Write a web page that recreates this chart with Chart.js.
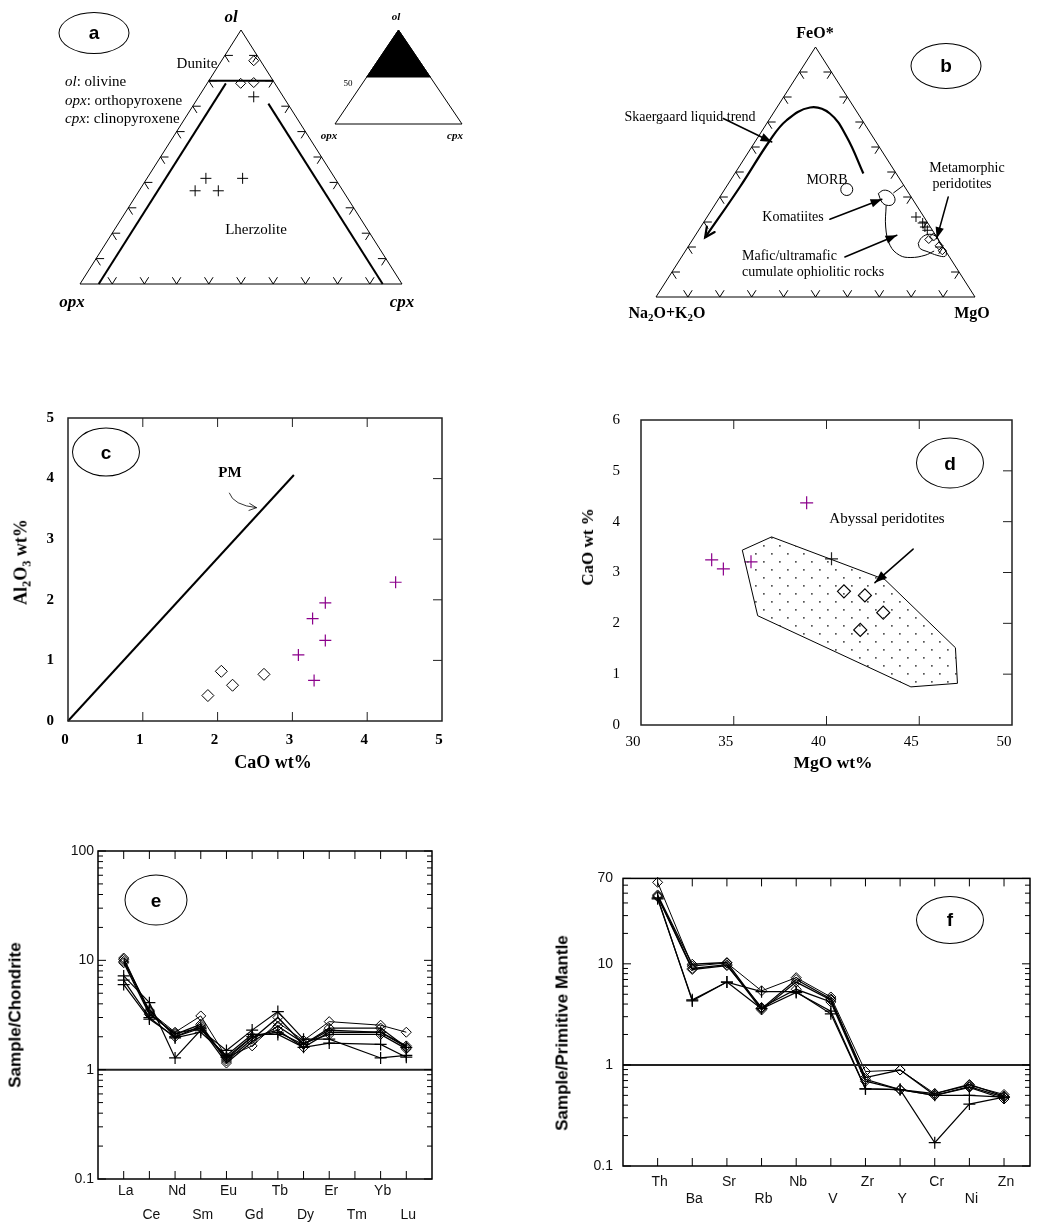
<!DOCTYPE html>
<html>
<head>
<meta charset="utf-8">
<script src="https://cdn.jsdelivr.net/npm/chart.js@4.4.0/dist/chart.umd.min.js"></script>
<style>
  body { margin: 0; width: 1040px; height: 1223px; position: relative; overflow: hidden; background: #fff; color: #000;
         font-family: "Liberation Serif", "Times New Roman", serif; }
  canvas { position: absolute; }
  .t { position: absolute; white-space: nowrap; line-height: 1; transform: translate(-50%, -50%); }
  .l { position: absolute; white-space: nowrap; line-height: 1; transform: translateY(-50%); }
  .r { transform: translate(-50%, -50%) rotate(-90deg); }
  .bub { position: absolute; border: 1.6px solid #000; border-radius: 50%; box-sizing: border-box;
         display: flex; align-items: center; justify-content: center; transform: translate(-50%, -50%);
         font: bold 19px "Liberation Sans", Arial, sans-serif; }
  .sans { font-family: "Liberation Sans", Arial, sans-serif; }
  sub { font-size: 0.68em; vertical-align: -0.3em; line-height: 0; }
</style>
</head>
<body>

<canvas id="ca" width="362" height="294" style="left:60px;top:10px"></canvas>
<canvas id="cai" width="147" height="114" style="left:325px;top:20px"></canvas>
<canvas id="cb" width="359" height="290" style="left:636px;top:27px"></canvas>
<canvas id="cc" width="460" height="365" style="left:0px;top:395px"></canvas>
<canvas id="cd" width="470" height="380" style="left:560px;top:390px"></canvas>
<canvas id="ce" width="450" height="388" style="left:0px;top:835px"></canvas>
<canvas id="cf" width="500" height="363" style="left:540px;top:860px"></canvas>

<!-- a -->
<div class="bub" style="left:94px;top:33px;width:71px;height:42px">a</div>
<div class="t" style="left:231px;top:17px;font:italic bold 17px 'Liberation Serif'">ol</div>
<div class="t" style="left:72px;top:302px;font:italic bold 17px 'Liberation Serif'">opx</div>
<div class="t" style="left:402px;top:302px;font:italic bold 17px 'Liberation Serif'">cpx</div>
<div class="t" style="left:197px;top:63px;font-size:15px">Dunite</div>
<div class="l" style="left:65px;top:81px;font-size:15px"><i>ol</i>: olivine</div>
<div class="l" style="left:65px;top:100px;font-size:15px"><i>opx</i>: orthopyroxene</div>
<div class="l" style="left:65px;top:118px;font-size:15px"><i>cpx</i>: clinopyroxene</div>
<div class="t" style="left:256px;top:229px;font-size:15px">Lherzolite</div>
<div class="t" style="left:396px;top:16px;font:italic bold 11px 'Liberation Serif'">ol</div>
<div class="t" style="left:329px;top:135px;font:italic bold 11px 'Liberation Serif'">opx</div>
<div class="t" style="left:455px;top:135px;font:italic bold 11px 'Liberation Serif'">cpx</div>
<div class="t" style="left:348px;top:83px;font-size:9px">50</div>

<!-- b -->
<div class="bub" style="left:946px;top:66px;width:71px;height:46px">b</div>
<div class="t" style="left:815px;top:33px;font:bold 16px 'Liberation Serif'">FeO*</div>
<div class="t" style="left:667px;top:313px;font:bold 16px 'Liberation Serif'">Na<sub>2</sub>O+K<sub>2</sub>O</div>
<div class="t" style="left:972px;top:313px;font:bold 16px 'Liberation Serif'">MgO</div>
<div class="t" style="left:690px;top:117px;font-size:14px">Skaergaard liquid trend</div>
<div class="t" style="left:827px;top:180px;font-size:14px">MORB</div>
<div class="t" style="left:793px;top:217px;font-size:14px">Komatiites</div>
<div class="l" style="left:742px;top:256px;font-size:14px">Mafic/ultramafic</div>
<div class="l" style="left:742px;top:272px;font-size:14px">cumulate ophiolitic rocks</div>
<div class="t" style="left:967px;top:168px;font-size:14px">Metamorphic</div>
<div class="t" style="left:962px;top:184px;font-size:14px">peridotites</div>

<!-- c -->
<div class="bub" style="left:106px;top:452px;width:68px;height:49px">c</div>
<div class="t" style="left:230px;top:472px;font:bold 15px 'Liberation Serif'">PM</div>
<div class="t" style="left:273px;top:762px;font:bold 18px 'Liberation Serif'">CaO wt%</div>
<div class="t r" style="left:21px;top:562px;font:bold 18px 'Liberation Serif'">Al<sub>2</sub>O<sub>3</sub> wt%</div>

<!-- d -->
<div class="bub" style="left:950px;top:463px;width:68px;height:51px">d</div>
<div class="t" style="left:887px;top:518px;font-size:15px">Abyssal peridotites</div>
<div class="t" style="left:833px;top:762px;font:bold 17.5px 'Liberation Serif'">MgO wt%</div>
<div class="t r" style="left:588px;top:547px;font:bold 17px 'Liberation Serif'">CaO wt %</div>

<!-- e -->
<div class="bub" style="left:156px;top:900px;width:63px;height:51px">e</div>
<div class="t r sans" style="left:15px;top:1015px;font-weight:bold;font-size:17px">Sample/Chondrite</div>

<!-- f -->
<div class="bub" style="left:950px;top:920px;width:68px;height:48px">f</div>
<div class="t r sans" style="left:562px;top:1033px;font-weight:bold;font-size:17px">Sample/Primitive Mantle</div>

<script>
// ---------- data ----------
const tickFracs = [0.1, 0.2, 0.3, 0.4, 0.5, 0.6, 0.7, 0.8, 0.9];

// a: modal ol / opx / cpx (field ol > 50 rescaled)
const aDiamondOl  = [0.879, 0.79, 0.793];
const aDiamondOpx = [0.021, 0.106, 0.064];
const aDiamondCpx = [0.10, 0.104, 0.143];
const aCrossOl  = [0.737, 0.416, 0.367, 0.367, 0.416];
const aCrossOpx = [0.092, 0.401, 0.459, 0.387, 0.287];
const aCrossCpx = [0.171, 0.183, 0.174, 0.246, 0.297];
const aDuniteOl = 0.8;
const aOpxSideCpx = 0.058, aOpxSideTopOl = 0.79;
const aCpxSideOpx = 0.06, aCpxSideTopOl = 0.71;
const insetSplitOl = 0.5;

// b: AFM (F = FeO*, A = Na2O+K2O, M = MgO)
const bCrossF = [0.32, 0.296, 0.28, 0.267];
const bCrossM = [0.655, 0.688, 0.703, 0.717];
const bDiamondF = [0.23, 0.24, 0.205, 0.185];
const bDiamondM = [0.74, 0.75, 0.785, 0.805];
const skaerF = [0.494, 0.64, 0.734, 0.758, 0.707, 0.627, 0.44, 0.238];
const skaerM = [0.403, 0.278, 0.178, 0.104, 0.056, 0.044, 0.043, 0.035];
const morbF = [0.43], morbM = [0.383];
const komF = [0.414, 0.427, 0.42, 0.394, 0.371, 0.367, 0.38, 0.414];
const komM = [0.49, 0.50, 0.524, 0.552, 0.557, 0.54, 0.518, 0.49];
const komTieF = [0.416, 0.447], komTieM = [0.536, 0.553];
const maficF = [0.367, 0.28, 0.207, 0.167, 0.158, 0.167, 0.184];
const maficM = [0.538, 0.58, 0.63, 0.68, 0.72, 0.76, 0.78];
const metaF = [0.214, 0.238, 0.251, 0.24, 0.214, 0.184, 0.163, 0.167, 0.18, 0.194, 0.214];
const metaM = [0.715, 0.714, 0.731, 0.76, 0.783, 0.817, 0.825, 0.797, 0.764, 0.731, 0.715];

// c: CaO vs Al2O3
const cCaODiamond = [1.87, 2.05, 2.2, 2.62];
const cAlDiamond  = [0.42, 0.82, 0.59, 0.77];
const cCaOCross = [3.08, 3.27, 3.44, 3.44, 3.29, 4.38];
const cAlCross  = [1.09, 1.69, 1.95, 1.33, 0.67, 2.29];
const pmCaO = [0, 3.02], pmAl = [0, 4.06];

// d: MgO vs CaO
const dMgODiamond = [40.94, 42.07, 43.06, 41.82];
const dCaODiamond = [2.63, 2.55, 2.21, 1.87];
const dMgOCross = [33.81, 34.44, 35.93, 38.93];
const dCaOCross = [3.25, 3.07, 3.21, 4.37];
const dMgOCrossDark = [40.27], dCaOCrossDark = [3.27];
const abyssalMgO = [35.46, 37.04, 43.15, 46.95, 47.06, 44.55, 36.29, 35.46];
const abyssalCaO = [3.44, 3.70, 2.86, 1.52, 0.82, 0.75, 2.15, 3.44];

// e: chondrite-normalised REE
const ree = ['La', 'Ce', 'Nd', 'Sm', 'Eu', 'Gd', 'Tb', 'Dy', 'Er', 'Tm', 'Yb', 'Lu'];
const eDiamond = [
  [10.5, 3.4, 2.2, 3.1, 1.3, 1.65, 2.7, 1.85, 2.75, null, 2.55, 2.2],
  [10.2, 3.3, 2.1, 2.6, 1.2, 1.9, 3.0, 1.7, 2.4, null, 2.4, 1.6],
  [9.8, 3.5, 2.0, 2.5, 1.25, 2.0, 2.3, 1.6, 2.2, null, 2.2, 1.65],
  [9.5, 3.2, 2.15, 2.4, 1.15, 1.8, 2.5, 1.75, 2.1, null, 2.1, 1.55]
];
const eCross = [
  [7.2, 4.1, 1.28, 2.3, 1.5, 2.3, 3.4, 1.9, 1.9, null, 1.28, 1.35],
  [6.6, 3.0, 1.95, 2.2, 1.35, 2.1, 2.1, 1.6, 1.75, null, 1.7, 1.3],
  [6.0, 2.9, 2.0, 2.4, 1.3, 2.0, 2.2, 1.7, 2.3, null, 2.2, 1.6]
];
const eYTicks = [0.1, 1, 10, 100];

// f: primitive-mantle-normalised trace elements
const trace = ['Th', 'Ba', 'Sr', 'Rb', 'Nb', 'V', 'Zr', 'Y', 'Cr', 'Ni', 'Zn'];
const fDiamond = [
  [64, 9.5, 10.2, 5.4, 7.3, 4.7, 0.86, 0.89, 0.52, 0.63, 0.51],
  [48, 9.9, 10.3, 3.6, 7.0, 4.5, 0.75, 0.89, 0.50, 0.61, 0.48],
  [47, 9.0, 9.8, 3.5, 6.6, 4.4, 0.72, 0.57, 0.50, 0.60, 0.46],
  [46, 8.8, 9.6, 3.7, 5.6, 4.2, 0.69, 0.57, 0.52, 0.64, 0.49]
];
const fCross = [
  [45, 4.3, 6.6, 3.6, 5.2, 3.4, 0.58, 0.57, 0.17, 0.41, 0.48],
  [44, 4.4, 6.6, 5.3, 5.3, 3.2, 0.58, 0.57, 0.50, 0.50, 0.48]
];
const fYTicks = [0.1, 1, 10, 70];

// ---------- helpers ----------
// ternary -> plot frame: left corner (0,0), right corner (1,0), top corner (0.5,1)
function tern(top, left, right) {
  const s = top + left + right;
  return { x: (right + top / 2) / s, y: top / s };
}
const afm = (F, M) => tern(F, 1 - F - M, M);
const pts = (xs, ys) => xs.map((v, i) => ({ x: v, y: ys[i] }));
const series = vals => vals.map((v, i) => ({ x: i, y: v }));
const minorLog = (lo, hi) => {
  const out = [];
  for (let d = lo; d < hi; d *= 10) for (let k = 2; k <= 9; k++) if (k * d < hi) out.push(k * d);
  return out;
};

function head(ctx, from, to, size, filled) {
  const ang = Math.atan2(to[1] - from[1], to[0] - from[0]);
  const spread = filled ? 0.36 : 0.45;
  ctx.beginPath();
  ctx.moveTo(to[0] - size * Math.cos(ang - spread), to[1] - size * Math.sin(ang - spread));
  ctx.lineTo(to[0], to[1]);
  ctx.lineTo(to[0] - size * Math.cos(ang + spread), to[1] - size * Math.sin(ang + spread));
  if (filled) { ctx.closePath(); ctx.fill(); } else ctx.stroke();
}

const ternaryTicks = {
  id: 'ternaryTicks',
  afterDatasetsDraw(chart, args, o) {
    if (!o.fracs) return;
    const { ctx, scales: { x, y } } = chart;
    const P = (px, py) => [x.getPixelForValue(px), y.getPixelForValue(py)];
    const dir = (dx, dy) => {
      const a = P(0, 0), b = P(dx, dy);
      const l = Math.hypot(b[0] - a[0], b[1] - a[1]);
      return [(b[0] - a[0]) / l * o.len, (b[1] - a[1]) / l * o.len];
    };
    const upL = dir(-0.5, 1), upR = dir(0.5, 1), right = dir(1, 0), downR = dir(0.5, -1), left = dir(-1, 0), downL = dir(-0.5, -1);
    const mark = (p, d1, d2) => {
      ctx.moveTo(p[0] + d1[0], p[1] + d1[1]);
      ctx.lineTo(p[0], p[1]);
      ctx.lineTo(p[0] + d2[0], p[1] + d2[1]);
    };
    ctx.save();
    ctx.strokeStyle = '#000';
    ctx.lineWidth = 1;
    ctx.beginPath();
    o.fracs.forEach(t => {
      mark(P(t, 0), upL, upR);
      mark(P(t / 2, t), right, downR);
      mark(P(1 - t / 2, t), left, downL);
    });
    ctx.stroke();
    ctx.restore();
  }
};

const annot = {
  id: 'annot',
  afterDatasetsDraw(chart, args, o) {
    const { ctx, scales: { x, y } } = chart;
    const P = p => [x.getPixelForValue(p[0]), y.getPixelForValue(p[1])];
    ctx.save();
    ctx.strokeStyle = '#000';
    ctx.fillStyle = '#000';
    ctx.lineCap = 'round';
    (o.arrows || []).forEach(a => {
      const f = P(a.from), t = P(a.to);
      let base = f;
      ctx.lineWidth = a.width;
      ctx.beginPath();
      ctx.moveTo(f[0], f[1]);
      if (a.via) {
        const v = P(a.via);
        ctx.quadraticCurveTo(v[0], v[1], t[0], t[1]);
        base = v;
      } else {
        ctx.lineTo(t[0], t[1]);
      }
      ctx.stroke();
      head(ctx, base, t, a.size, a.filled);
    });
    (o.endHeads || []).forEach(h => {
      const el = chart.getDatasetMeta(h.dataset).data;
      const a = el[el.length - 2], b = el[el.length - 1];
      ctx.lineWidth = h.width;
      head(ctx, [a.x, a.y], [b.x, b.y], h.size, false);
    });
    ctx.restore();
  }
};

const frame = {
  id: 'frame',
  afterDatasetsDraw(chart, args, o) {
    const { ctx, chartArea: a, scales: { x, y } } = chart;
    ctx.save();
    ctx.strokeStyle = o.color;
    ctx.lineWidth = 1;
    ctx.beginPath();
    (o.xTicks || []).forEach(v => {
      const px = x.getPixelForValue(v);
      ctx.moveTo(px, a.top); ctx.lineTo(px, a.top + o.len);
      ctx.moveTo(px, a.bottom); ctx.lineTo(px, a.bottom - o.len);
    });
    (o.yTicks || []).forEach(v => {
      const py = y.getPixelForValue(v);
      if (o.leftTicks) { ctx.moveTo(a.left, py); ctx.lineTo(a.left + o.len, py); }
      ctx.moveTo(a.right, py); ctx.lineTo(a.right - o.len, py);
    });
    (o.yMinor || []).forEach(v => {
      const py = y.getPixelForValue(v);
      ctx.moveTo(a.left, py); ctx.lineTo(a.left + o.minorLen, py);
      ctx.moveTo(a.right, py); ctx.lineTo(a.right - o.minorLen, py);
    });
    ctx.stroke();
    ctx.lineWidth = o.width;
    ctx.strokeRect(a.left, a.top, a.right - a.left, a.bottom - a.top);
    ctx.restore();
  }
};

const base = {
  responsive: false,
  animation: false,
  events: [],
  plugins: { legend: { display: false }, tooltip: { enabled: false } }
};

function ternaryChart(id, pad, datasets, extra) {
  return new Chart(document.getElementById(id), {
    type: 'scatter',
    data: { datasets },
    options: Object.assign({}, base, {
      layout: { padding: pad },
      scales: {
        x: { type: 'linear', min: 0, max: 1, display: false },
        y: { type: 'linear', min: 0, max: 1, display: false }
      },
      plugins: Object.assign({}, base.plugins, extra)
    }),
    plugins: [ternaryTicks, annot]
  });
}

const lineSet = (data, width, more) => Object.assign({
  data, showLine: true, borderColor: '#000', borderWidth: width, pointRadius: 0, clip: false, fill: false
}, more || {});
const markerSet = (data, style, radius, color, more) => Object.assign({
  data, showLine: false, pointStyle: style, pointRadius: radius, pointBorderColor: color,
  pointBackgroundColor: 'rgba(0,0,0,0)', pointBorderWidth: 1, clip: false
}, more || {});

const outline = [tern(0, 1, 0), tern(0, 0, 1), tern(1, 0, 0), tern(0, 1, 0)];

// ---------- a ----------
ternaryChart('ca', 20, [
  lineSet(outline, 1),
  lineSet([tern(aDuniteOl, 1 - aDuniteOl, 0), tern(aDuniteOl, 0, 1 - aDuniteOl)], 2),
  lineSet([tern(0, 1 - aOpxSideCpx, aOpxSideCpx), tern(aOpxSideTopOl, 1 - aOpxSideTopOl - aOpxSideCpx, aOpxSideCpx)], 2),
  lineSet([tern(0, aCpxSideOpx, 1 - aCpxSideOpx), tern(aCpxSideTopOl, aCpxSideOpx, 1 - aCpxSideTopOl - aCpxSideOpx)], 2),
  markerSet(aDiamondOl.map((v, i) => tern(v, aDiamondOpx[i], aDiamondCpx[i])), 'rectRot', 5, '#000'),
  markerSet(aCrossOl.map((v, i) => tern(v, aCrossOpx[i], aCrossCpx[i])), 'cross', 5.5, '#000')
], { ternaryTicks: { fracs: tickFracs, len: 8 }, annot: {} });

// inset key: black = ol > 50
ternaryChart('cai', 10, [
  lineSet([tern(insetSplitOl, 1 - insetSplitOl, 0), tern(insetSplitOl, 0, 1 - insetSplitOl), tern(1, 0, 0), tern(insetSplitOl, 1 - insetSplitOl, 0)], 1,
    { fill: 'shape', backgroundColor: '#000' }),
  lineSet(outline, 1)
], { ternaryTicks: {}, annot: {} });

// ---------- b ----------
ternaryChart('cb', 20, [
  lineSet(outline, 1),
  lineSet(skaerF.map((f, i) => afm(f, skaerM[i])), 2.2, { tension: 0.4 }),
  markerSet(morbF.map((f, i) => afm(f, morbM[i])), 'circle', 6, '#000'),
  lineSet(komF.map((f, i) => afm(f, komM[i])), 1, { tension: 0.4 }),
  lineSet(komTieF.map((f, i) => afm(f, komTieM[i])), 1),
  lineSet(maficF.map((f, i) => afm(f, maficM[i])), 1, { tension: 0.4 }),
  lineSet(metaF.map((f, i) => afm(f, metaM[i])), 1, { tension: 0.4 }),
  markerSet(bCrossF.map((f, i) => afm(f, bCrossM[i])), 'cross', 5, '#000'),
  markerSet(bDiamondF.map((f, i) => afm(f, bDiamondM[i])), 'rectRot', 4, '#000')
], {
  ternaryTicks: { fracs: tickFracs, len: 8 },
  annot: {
    arrows: [
      { from: [0.211, 0.714], to: [0.363, 0.62], width: 1.5, size: 12, filled: true },
      { from: [0.545, 0.311], to: [0.708, 0.391], width: 1.5, size: 12, filled: true },
      { from: [0.592, 0.16], to: [0.755, 0.247], width: 1.5, size: 12, filled: true },
      { from: [0.916, 0.40], to: [0.88, 0.234], width: 1.5, size: 12, filled: true }
    ],
    endHeads: [{ dataset: 1, size: 11, width: 2.2 }]
  }
});

// ---------- c ----------
new Chart(document.getElementById('cc'), {
  type: 'scatter',
  data: { datasets: [
    lineSet(pts(pmCaO, pmAl), 2),
    markerSet(pts(cCaODiamond, cAlDiamond), 'rectRot', 6, '#000'),
    markerSet(pts(cCaOCross, cAlCross), 'cross', 6, '#8b008b', { pointBorderWidth: 1.2 })
  ] },
  options: Object.assign({}, base, {
    layout: { padding: { top: 13, right: 18, left: 0, bottom: 0 } },
    scales: {
      x: { type: 'linear', min: 0, max: 5,
           ticks: { stepSize: 1, padding: 10, labelOffset: -3, color: '#000', font: { family: 'Liberation Serif', size: 15, weight: 'bold' } },
           grid: { display: false, drawTicks: false }, border: { display: false },
           afterFit: s => { s.height = 39; } },
      y: { type: 'linear', min: 0, max: 5,
           ticks: { stepSize: 1, padding: 14, color: '#000', font: { family: 'Liberation Serif', size: 15, weight: 'bold' } },
           grid: { display: false, drawTicks: false }, border: { display: false },
           afterFit: s => { s.width = 68; } }
    },
    plugins: Object.assign({}, base.plugins, {
      frame: { color: '#222', width: 1.5, len: 9, xTicks: [1, 2, 3, 4], yTicks: [1, 2, 3, 4] },
      annot: { arrows: [{ from: [2.157, 3.76], via: [2.21, 3.56], to: [2.52, 3.52], width: 0.8, size: 8, filled: false }] }
    })
  }),
  plugins: [frame, annot]
});

// ---------- d ----------
const dotTile = document.createElement('canvas');
dotTile.width = 16; dotTile.height = 16;
const tg = dotTile.getContext('2d');
tg.fillStyle = '#555';
tg.fillRect(3, 3, 1.7, 1.7);
tg.fillRect(11, 11, 1.7, 1.7);
const dots = document.getElementById('cd').getContext('2d').createPattern(dotTile, 'repeat');

new Chart(document.getElementById('cd'), {
  type: 'scatter',
  data: { datasets: [
    lineSet(pts(abyssalMgO, abyssalCaO), 1, { fill: 'shape', backgroundColor: dots }),
    markerSet(pts(dMgODiamond, dCaODiamond), 'rectRot', 6.5, '#000', { pointBorderWidth: 1.2 }),
    markerSet(pts(dMgOCross, dCaOCross), 'cross', 6.5, '#8b008b', { pointBorderWidth: 1.2 }),
    markerSet(pts(dMgOCrossDark, dCaOCrossDark), 'cross', 6.5, '#222', { pointBorderWidth: 1.2 })
  ] },
  options: Object.assign({}, base, {
    layout: { padding: { top: 11, right: 18, left: 0, bottom: 0 } },
    scales: {
      x: { type: 'linear', min: 30, max: 50,
           ticks: { stepSize: 5, padding: 8, labelOffset: -8, color: '#000', font: { family: 'Liberation Serif', size: 15 } },
           grid: { display: false, drawTicks: false }, border: { display: false },
           afterFit: s => { s.height = 45; } },
      y: { type: 'linear', min: 0, max: 6,
           ticks: { stepSize: 1, padding: 21, color: '#000', font: { family: 'Liberation Serif', size: 15 } },
           grid: { display: false, drawTicks: false }, border: { display: false },
           afterFit: s => { s.width = 81; } }
    },
    plugins: Object.assign({}, base.plugins, {
      frame: { color: '#222', width: 1.5, len: 9, xTicks: [35, 40, 45], yTicks: [1, 2, 3, 4, 5] },
      annot: { arrows: [{ from: [44.67, 3.46], to: [42.61, 2.80], width: 1.5, size: 13, filled: true }] }
    })
  }),
  plugins: [frame, annot]
});

// ---------- e / f spider diagrams ----------
function spider(id, names, diamonds, crosses, yMin, yMax, yTicks, xMax, layout, labelFont, xPad) {
  const sets = [lineSet([{ x: -1, y: 1 }, { x: xMax, y: 1 }], 2, { borderColor: '#222' })];
  diamonds.forEach((s, k) => sets.push({
    data: series(s), type: 'line', spanGaps: true, borderColor: '#000', borderWidth: k === 0 ? 1 : 1.3,
    pointStyle: 'rectRot', pointRadius: 5, pointBorderColor: '#000', pointBackgroundColor: 'rgba(0,0,0,0)',
    pointBorderWidth: 1, clip: false, fill: false
  }));
  crosses.forEach(s => sets.push({
    data: series(s), type: 'line', spanGaps: true, borderColor: '#000', borderWidth: 1.2,
    pointStyle: 'cross', pointRadius: 6, pointBorderColor: '#000', pointBorderWidth: 1.2, clip: false, fill: false
  }));
  return new Chart(document.getElementById(id), {
    type: 'scatter',
    data: { datasets: sets },
    options: Object.assign({}, base, {
      layout: { padding: layout.pad },
      scales: {
        x: { type: 'linear', min: -1, max: xMax,
             afterBuildTicks: s => { s.ticks = names.map((_, i) => ({ value: i })); },
             ticks: { autoSkip: false, maxRotation: 0, padding: xPad, labelOffset: 2, color: '#111',
                      font: labelFont, callback: v => (v % 2 === 0 ? names[v] : ['', names[v]]) },
             grid: { display: false, drawTicks: false }, border: { display: false },
             afterFit: s => { s.height = layout.xh; } },
        y: { type: 'logarithmic', min: yMin, max: yMax,
             afterBuildTicks: s => { s.ticks = yTicks.map(v => ({ value: v })); },
             ticks: { padding: layout.yPad, color: '#111', font: { family: 'Liberation Sans', size: 14 }, callback: v => String(v) },
             grid: { display: false, drawTicks: false }, border: { display: false },
             afterFit: s => { s.width = layout.yw; } }
      },
      plugins: Object.assign({}, base.plugins, {
        frame: { color: '#000', width: 1.5, len: 8, minorLen: 5, leftTicks: true,
                 xTicks: names.map((_, i) => i), yTicks: yTicks, yMinor: minorLog(yMin, yMax) }
      })
    }),
    plugins: [frame]
  });
}

spider('ce', ree, eDiamond, eCross, 0.1, 100, eYTicks, 12,
  { pad: { top: 16, right: 18, left: 0, bottom: 0 }, xh: 44, yw: 98, yPad: 4 },
  { family: 'Liberation Sans', size: 14, lineHeight: 1.7 }, 0);

spider('cf', trace, fDiamond, fCross, 0.1, 70, fYTicks, 10.75,
  { pad: { top: 14, right: 10, left: 0, bottom: 0 }, xh: 57, yw: 83, yPad: 10 },
  { family: 'Liberation Sans', size: 14, lineHeight: 1.2 }, 8);
</script>
</body>
</html>
